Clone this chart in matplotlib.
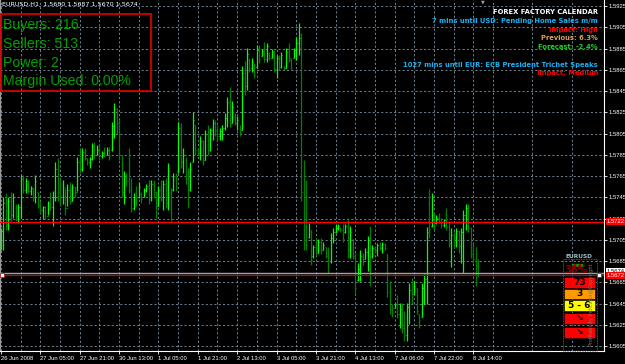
import matplotlib
matplotlib.use("Agg")
import matplotlib.pyplot as plt
from matplotlib.patches import Rectangle

# EURUSD H1 bars, 26 Jun 2008 13:00 .. 8 Jul 2008
bar_open = [
    1.5699, 1.5713, 1.5740, 1.5720, 1.5742, 1.5728, 1.5735, 1.5727, 1.5736, 1.5762,
    1.5752, 1.5760, 1.5751, 1.5754, 1.5745, 1.5750, 1.5738, 1.5733, 1.5736, 1.5727,
    1.5740, 1.5736, 1.5745, 1.5772, 1.5750, 1.5745, 1.5755, 1.5735, 1.5752, 1.5742,
    1.5755, 1.5750, 1.5778, 1.5772, 1.5788, 1.5782, 1.5778, 1.5781, 1.5793, 1.5785,
    1.5790, 1.5784, 1.5787, 1.5785, 1.5790, 1.5790, 1.5812, 1.5828, 1.5815, 1.5785,
    1.5750, 1.5765, 1.5760, 1.5752, 1.5735, 1.5745, 1.5745, 1.5748, 1.5745, 1.5752,
    1.5756, 1.5745, 1.5758, 1.5750, 1.5737, 1.5752, 1.5745, 1.5758, 1.5740, 1.5750,
    1.5752, 1.5765, 1.5770, 1.5810, 1.5778, 1.5780, 1.5762, 1.5752, 1.5778, 1.5813,
    1.5790, 1.5787, 1.5798, 1.5780, 1.5805, 1.5790, 1.5808, 1.5815, 1.5808, 1.5803,
    1.5807, 1.5810, 1.5820, 1.5835, 1.5815, 1.5822, 1.5815, 1.5813, 1.5808, 1.5862,
    1.5850, 1.5874, 1.5867, 1.5870, 1.5868, 1.5884, 1.5878, 1.5883, 1.5875, 1.5880,
    1.5876, 1.5882, 1.5866, 1.5876, 1.5868, 1.5869, 1.5867, 1.5882, 1.5874, 1.5876,
    1.5884, 1.5890, 1.5895, 1.5750, 1.5705, 1.5708, 1.5714, 1.5690, 1.5698, 1.5693,
    1.5703, 1.5695, 1.5698, 1.5690, 1.5685, 1.5707, 1.5712, 1.5716, 1.5716, 1.5714,
    1.5712, 1.5718, 1.5695, 1.5706, 1.5690, 1.5667, 1.5678, 1.5690, 1.5687, 1.5694,
    1.5705, 1.5690, 1.5697, 1.5695, 1.5700, 1.5697, 1.5701, 1.5692, 1.5656, 1.5640,
    1.5641, 1.5645, 1.5635, 1.5640, 1.5622, 1.5615, 1.5642, 1.5658, 1.5654, 1.5660,
    1.5635, 1.5632, 1.5660, 1.5668, 1.5740, 1.5718, 1.5728, 1.5721, 1.5726, 1.5722,
    1.5719, 1.5724, 1.5717, 1.5702, 1.5710, 1.5700, 1.5713, 1.5699, 1.5712, 1.5728,
    1.5735, 1.5716, 1.5692, 1.5687, 1.5680,
]
bar_high = [
    1.5716, 1.5745, 1.5749, 1.5745, 1.5750, 1.5749, 1.5739, 1.5739, 1.5766, 1.5766,
    1.5763, 1.5761, 1.5756, 1.5754, 1.5766, 1.5750, 1.5742, 1.5737, 1.5737, 1.5742,
    1.5750, 1.5751, 1.5778, 1.5782, 1.5763, 1.5761, 1.5754, 1.5758, 1.5759, 1.5758,
    1.5756, 1.5783, 1.5791, 1.5791, 1.5791, 1.5782, 1.5783, 1.5796, 1.5797, 1.5794,
    1.5796, 1.5789, 1.5792, 1.5792, 1.5792, 1.5816, 1.5834, 1.5829, 1.5818, 1.5785,
    1.5770, 1.5768, 1.5791, 1.5763, 1.5749, 1.5756, 1.5759, 1.5750, 1.5754, 1.5758,
    1.5761, 1.5761, 1.5761, 1.5751, 1.5756, 1.5761, 1.5761, 1.5763, 1.5777, 1.5754,
    1.5768, 1.5768, 1.5816, 1.5815, 1.5791, 1.5783, 1.5773, 1.5778, 1.5825, 1.5813,
    1.5791, 1.5803, 1.5799, 1.5808, 1.5813, 1.5810, 1.5819, 1.5818, 1.5813, 1.5810,
    1.5813, 1.5824, 1.5839, 1.5849, 1.5836, 1.5824, 1.5822, 1.5813, 1.5869, 1.5873,
    1.5886, 1.5876, 1.5876, 1.5871, 1.5888, 1.5888, 1.5885, 1.5891, 1.5890, 1.5882,
    1.5885, 1.5884, 1.5879, 1.5879, 1.5882, 1.5869, 1.5886, 1.5890, 1.5876, 1.5886,
    1.5896, 1.5909, 1.5900, 1.5780, 1.5761, 1.5721, 1.5714, 1.5700, 1.5707, 1.5706,
    1.5707, 1.5703, 1.5698, 1.5698, 1.5711, 1.5716, 1.5720, 1.5720, 1.5717, 1.5720,
    1.5720, 1.5726, 1.5718, 1.5706, 1.5693, 1.5683, 1.5695, 1.5693, 1.5697, 1.5709,
    1.5718, 1.5700, 1.5698, 1.5702, 1.5703, 1.5703, 1.5702, 1.5692, 1.5666, 1.5645,
    1.5646, 1.5653, 1.5646, 1.5646, 1.5638, 1.5646, 1.5664, 1.5669, 1.5666, 1.5660,
    1.5635, 1.5664, 1.5673, 1.5717, 1.5753, 1.5749, 1.5730, 1.5728, 1.5730, 1.5726,
    1.5725, 1.5735, 1.5723, 1.5716, 1.5712, 1.5716, 1.5714, 1.5716, 1.5733, 1.5739,
    1.5739, 1.5717, 1.5702, 1.5698, 1.5687,
]
bar_low = [
    1.5695, 1.5695, 1.5714, 1.5714, 1.5723, 1.5726, 1.5723, 1.5721, 1.5726, 1.5749,
    1.5749, 1.5749, 1.5747, 1.5742, 1.5740, 1.5735, 1.5730, 1.5725, 1.5725, 1.5728,
    1.5733, 1.5718, 1.5742, 1.5742, 1.5737, 1.5739, 1.5728, 1.5737, 1.5739, 1.5742,
    1.5745, 1.5751, 1.5768, 1.5770, 1.5780, 1.5775, 1.5773, 1.5780, 1.5782, 1.5785,
    1.5780, 1.5782, 1.5783, 1.5785, 1.5780, 1.5789, 1.5801, 1.5805, 1.5780, 1.5745,
    1.5739, 1.5756, 1.5749, 1.5731, 1.5733, 1.5737, 1.5744, 1.5740, 1.5745, 1.5750,
    1.5739, 1.5742, 1.5744, 1.5726, 1.5737, 1.5742, 1.5733, 1.5735, 1.5733, 1.5723,
    1.5751, 1.5751, 1.5768, 1.5773, 1.5768, 1.5758, 1.5735, 1.5751, 1.5778, 1.5785,
    1.5785, 1.5780, 1.5775, 1.5780, 1.5785, 1.5789, 1.5799, 1.5803, 1.5799, 1.5799,
    1.5799, 1.5808, 1.5811, 1.5811, 1.5815, 1.5813, 1.5808, 1.5803, 1.5808, 1.5841,
    1.5846, 1.5863, 1.5863, 1.5857, 1.5867, 1.5871, 1.5878, 1.5872, 1.5872, 1.5874,
    1.5876, 1.5863, 1.5857, 1.5865, 1.5867, 1.5865, 1.5867, 1.5872, 1.5865, 1.5876,
    1.5874, 1.5879, 1.5742, 1.5695, 1.5695, 1.5707, 1.5681, 1.5688, 1.5690, 1.5693,
    1.5692, 1.5695, 1.5688, 1.5674, 1.5683, 1.5702, 1.5711, 1.5714, 1.5712, 1.5703,
    1.5711, 1.5688, 1.5688, 1.5687, 1.5655, 1.5666, 1.5666, 1.5681, 1.5687, 1.5676,
    1.5662, 1.5688, 1.5693, 1.5690, 1.5695, 1.5693, 1.5695, 1.5651, 1.5635, 1.5632,
    1.5641, 1.5631, 1.5622, 1.5617, 1.5610, 1.5610, 1.5626, 1.5645, 1.5654, 1.5635,
    1.5622, 1.5632, 1.5645, 1.5645, 1.5707, 1.5717, 1.5714, 1.5720, 1.5721, 1.5716,
    1.5717, 1.5714, 1.5698, 1.5679, 1.5697, 1.5698, 1.5693, 1.5683, 1.5674, 1.5714,
    1.5712, 1.5688, 1.5683, 1.5662, 1.5670,
]
bar_close = [
    1.5713, 1.5740, 1.5720, 1.5742, 1.5728, 1.5745, 1.5727, 1.5736, 1.5762, 1.5752,
    1.5760, 1.5751, 1.5754, 1.5745, 1.5760, 1.5738, 1.5733, 1.5736, 1.5727, 1.5740,
    1.5736, 1.5745, 1.5772, 1.5750, 1.5745, 1.5755, 1.5735, 1.5752, 1.5742, 1.5755,
    1.5750, 1.5778, 1.5772, 1.5788, 1.5782, 1.5778, 1.5781, 1.5793, 1.5785, 1.5790,
    1.5784, 1.5787, 1.5785, 1.5790, 1.5784, 1.5812, 1.5828, 1.5815, 1.5785, 1.5750,
    1.5765, 1.5760, 1.5752, 1.5735, 1.5745, 1.5740, 1.5755, 1.5743, 1.5752, 1.5756,
    1.5745, 1.5758, 1.5750, 1.5730, 1.5752, 1.5745, 1.5758, 1.5740, 1.5770, 1.5730,
    1.5765, 1.5755, 1.5810, 1.5778, 1.5785, 1.5762, 1.5740, 1.5772, 1.5818, 1.5790,
    1.5787, 1.5798, 1.5780, 1.5805, 1.5790, 1.5808, 1.5815, 1.5808, 1.5803, 1.5807,
    1.5810, 1.5820, 1.5835, 1.5815, 1.5830, 1.5815, 1.5818, 1.5806, 1.5862, 1.5850,
    1.5880, 1.5867, 1.5872, 1.5860, 1.5884, 1.5875, 1.5883, 1.5875, 1.5887, 1.5876,
    1.5882, 1.5866, 1.5876, 1.5868, 1.5879, 1.5866, 1.5882, 1.5876, 1.5868, 1.5884,
    1.5890, 1.5895, 1.5750, 1.5705, 1.5700, 1.5718, 1.5686, 1.5698, 1.5693, 1.5703,
    1.5695, 1.5700, 1.5690, 1.5680, 1.5707, 1.5712, 1.5716, 1.5718, 1.5714, 1.5706,
    1.5718, 1.5695, 1.5712, 1.5690, 1.5660, 1.5678, 1.5690, 1.5684, 1.5694, 1.5705,
    1.5690, 1.5697, 1.5695, 1.5700, 1.5697, 1.5701, 1.5697, 1.5656, 1.5640, 1.5636,
    1.5645, 1.5635, 1.5640, 1.5622, 1.5615, 1.5642, 1.5658, 1.5650, 1.5662, 1.5638,
    1.5630, 1.5660, 1.5668, 1.5712, 1.5715, 1.5740, 1.5718, 1.5726, 1.5722, 1.5719,
    1.5724, 1.5717, 1.5702, 1.5710, 1.5700, 1.5713, 1.5699, 1.5712, 1.5728, 1.5735,
    1.5716, 1.5692, 1.5687, 1.5680, 1.5674,
]

time_labels = ["26 Jun 2008", "27 Jun 05:00", "27 Jun 21:00", "30 Jun 13:00",
               "1 Jul 05:00", "1 Jul 21:00", "2 Jul 13:00", "3 Jul 05:00",
               "3 Jul 21:00", "4 Jul 13:00", "7 Jul 06:00", "7 Jul 22:00",
               "8 Jul 14:00"]
price_ticks = [1.5605, 1.5625, 1.5645, 1.5665, 1.5685, 1.5705, 1.5725, 1.5745,
               1.5765, 1.5785, 1.5805, 1.5825, 1.5845, 1.5865, 1.5885, 1.5905,
               1.5925]

level_line = 1.5722      # red horizontal level
bid_price = 1.5674
marker_price = 1.5672

info_lines = ["Buyers: 216", "Sellers: 513", "Power: 2", "Margin Used: 0.00%"]

calendar_lines = [
    ("FOREX FACTORY CALENDAR", "#ffffff"),
    ("7 mins until USD: Pending Home Sales m/m", "#1ab0f0"),
    ("Impact: High", "#ff0000"),
    ("Previous: 6.3%", "#d8a060"),
    ("Forecast: -2.4%", "#22cc22"),
    ("", None),
    ("1027 mins until EUR: ECB President Trichet Speaks", "#1ab0f0"),
    ("Impact: Medium", "#ff0000"),
]

W, H = 625, 364
BG = "#000000"
UP = "#00ff00"
DOWN = "#008000"
GRID = "#6e7f8f"
SMALL = "Liberation Sans"
SMALL_SIZE = 4.2


def fx(px):
    return px / W


def fy(py):
    return 1 - py / H


fig = plt.figure(figsize=(W / 100, H / 100), dpi=100, facecolor=BG)
ax = fig.add_axes([0, fy(351), fx(604), 351 / H])
ax.set_facecolor(BG)

n = len(bar_close)
assert n == len(bar_open) == len(bar_high) == len(bar_low)
idx = list(range(n))
colors = [UP if c >= o else DOWN for o, c in zip(bar_open, bar_close)]

ax.vlines(idx, bar_low, bar_high, colors=colors, lw=0.9, zorder=3)
ax.hlines(bar_open, [i - 0.4 for i in idx], idx, colors=colors, lw=0.7, zorder=3)
ax.hlines(bar_close, idx, [i + 0.4 for i in idx], colors=colors, lw=0.7, zorder=3)

# 2.46 px per bar, first bar at x=1 px
ax.set_xlim(-1 / 2.46, 603 / 2.46)
ax.set_ylim(1.56004, 1.59307)

# ticks + dotted grid
ax.set_xticks(list(range(0, 16 * len(time_labels), 16)))
ax.set_xticklabels(time_labels, ha="left", family=SMALL)
ax.set_xticks(list(range(8, 245, 16)), minor=True)
ax.set_yticks(price_ticks)
ax.set_yticklabels([f"{p:.4f}" for p in price_ticks], family=SMALL)
ax.grid(True, which="both", color=GRID, lw=0.7, ls=(0, (2.2, 2.2)), zorder=1)

ax.yaxis.tick_right()
ax.tick_params(axis="y", which="major", colors="white", labelsize=SMALL_SIZE,
               length=2, width=0.6, pad=1.2)
ax.tick_params(axis="x", which="major", colors="white", labelsize=SMALL_SIZE,
               length=2, width=0.6, pad=1.5)
ax.tick_params(axis="x", which="minor", length=0)
for name, sp in ax.spines.items():
    sp.set_color("white")
    sp.set_linewidth(0.8)
ax.spines["top"].set_visible(False)
ax.spines["left"].set_color("#9a9a9a")

# horizontal price lines
ax.axhline(level_line, color="#ff0000", lw=1.0, zorder=4)
ax.axhline(bid_price, color="#9aa4b0", lw=1.0, zorder=4)
ax.axhline(marker_price, color="#c00000", lw=0.9, zorder=4)
ax.plot([0.6], [marker_price], marker="s", ms=2.5, mfc="white", mec="#c00000",
        mew=0.5, zorder=5, clip_on=False)
ax.plot([243.0], [marker_price], marker="s", ms=2.5, mfc="white", mec="#c00000",
        mew=0.5, zorder=5, clip_on=False)

ytr = ax.get_yaxis_transform()
ax.text(1.004, bid_price + 0.0001, f"{bid_price:.4f}", transform=ytr,
        fontsize=SMALL_SIZE, family=SMALL, color="black", va="center", ha="left",
        zorder=6, bbox=dict(boxstyle="square,pad=0.15", fc="white", ec="none"))
for p in (level_line, marker_price):
    ax.text(1.004, p - (0.00004 if p == marker_price else 0), f"{p:.4f}",
            transform=ytr, fontsize=SMALL_SIZE, family=SMALL, color="white",
            va="center", ha="left", zorder=7,
            bbox=dict(boxstyle="square,pad=0.15", fc="#ff0000", ec="none"))

# top-left header
fig.text(fx(2), fy(4), "EURUSD,H1  1.5680 1.5687 1.5670 1.5674", color="white",
         fontsize=4.6, va="center", ha="left")
fig.add_artist(Rectangle((fx(1.5), fy(91)), fx(149), 77 / H, transform=fig.transFigure,
                         fill=False, ec="#d00000", lw=1.3))
for k, line in enumerate(info_lines):
    fig.text(fx(3), fy(25 + 18.8 * k), line, color="#00a000", fontsize=10.2,
             family="Liberation Sans", va="center", ha="left")

# calendar block, right aligned
for k, (line, col) in enumerate(calendar_lines):
    if not line:
        continue
    fig.text(fx(598), fy(12.5 + 8.6 * k + (0.8 if k > 5 else 0)), line, color=col,
             fontsize=4.9, fontweight="bold", va="center", ha="right")

# chart shift marker
fig.text(fx(483), fy(2), "\u25BC", color="#a0a0a0", fontsize=3.5, ha="center",
         va="center")

# profitability widget (bottom right)
fig.text(fx(579), fy(256), "EURUSD", color="#9cc0cc", fontsize=4.2,
         fontweight="bold", ha="center", va="center")
fig.add_artist(Rectangle((fx(563), fy(351)), fx(34), 92 / H, transform=fig.transFigure,
                         fill=False, ec="#707070", lw=0.6, ls=(0, (1, 1))))
for k, col in enumerate(["#00a000", "#c00000", "#00a000", "#c00000", "#00a000"]):
    fig.add_artist(Rectangle((fx(572 + 2.2 * k), fy(266)), fx(1.6), 1.6 / H,
                             transform=fig.transFigure, color=col))
fig.text(fx(576), fy(270), "36%", color="#8a0000", fontsize=7, fontweight="bold",
         ha="center", va="center")
boxes = [("73", "#ff0000", 277), ("3", "#ff9900", 288.5), ("5 - 6", "#ffff00", 300),
         ("\u2198", "#ff0000", 313), ("\u2198", "#ff0000", 327)]
for txt, col, top in boxes:
    fig.add_artist(Rectangle((fx(564), fy(top + 10.5)), fx(31), 10.5 / H,
                             transform=fig.transFigure, color=col, ec="black", lw=0.4))
    fig.text(fx(579.5), fy(top + 5.3), txt, color="black", fontsize=6.5,
             fontweight="bold", ha="center", va="center")
fig.text(fx(591.5), fy(305), "Profitability Indicator@Copyright", color="#7a7a7a",
         fontsize=3.6, rotation=90, ha="center", va="center")

fig.savefig("out.png", dpi=100, facecolor=BG)
